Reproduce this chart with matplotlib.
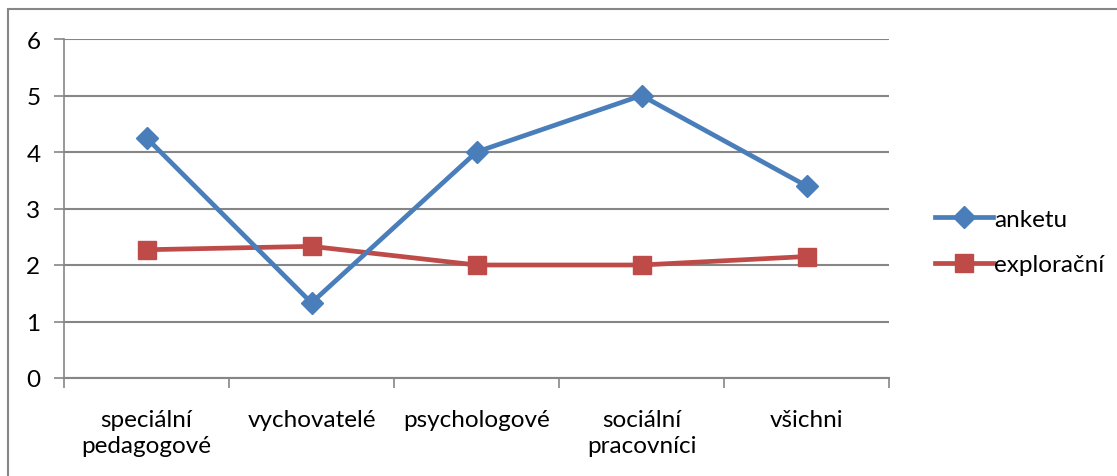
import matplotlib
matplotlib.use("Agg")
import matplotlib.pyplot as plt
from matplotlib.patches import Rectangle
from matplotlib.lines import Line2D

categories = ["speciální\npedagogové", "vychovatelé", "psychologové", "sociální\npracovníci", "všichni"]
anketu = [4.25, 1.33, 4.0, 5.0, 3.4]
exploracni = [2.27, 2.33, 2.0, 2.0, 2.15]
series_names = ["anketu", "explorační"]
yticks = [0, 1, 2, 3, 4, 5, 6]

BLUE = "#4A7EBB"
RED = "#BE4B48"
GRID = "#868686"

plt.rcParams['font.family'] = ['Lato', 'DejaVu Sans']

W, H = 1117, 477
fig = plt.figure(figsize=(W / 100, H / 100), dpi=100)
fig.patch.set_facecolor("white")

# outer chart frame
fig.patches.append(Rectangle((8 / W, -0.1), 1.2, 1 - 10 / H + 0.1, transform=fig.transFigure,
                             fill=False, edgecolor="#868686", linewidth=1.5))

ax = fig.add_axes([64 / W, 1 - 379 / H, (889 - 64) / W, (379 - 40) / H])
x = list(range(len(categories)))
ax.plot(x, anketu, color=BLUE, linewidth=3.4, marker="D", markersize=11, label=series_names[0],
        clip_on=False, zorder=4)
ax.plot(x, exploracni, color=RED, linewidth=3.4, marker="s", markersize=13, label=series_names[1],
        clip_on=False, zorder=3)

ax.set_xlim(-0.5, len(categories) - 0.5)
ax.set_ylim(0, 6)
ax.set_yticks(yticks)
ax.set_xticks(x)
ax.set_xticklabels(categories, fontsize=17.5, linespacing=1.3)
ax.set_xticks([i - 0.5 for i in range(len(categories) + 1)], minor=True)
ax.tick_params(axis="x", which="major", length=0, pad=22)
ax.tick_params(axis="x", which="minor", length=7, color=GRID, width=1.2, direction="out")
ax.tick_params(axis="y", length=7, color=GRID, width=1.2, labelsize=17.5, pad=10)
ax.grid(axis="y", color=GRID, linewidth=1.5)
ax.set_axisbelow(True)
for s in ["top", "right"]:
    ax.spines[s].set_visible(False)
ax.spines["left"].set_color(GRID)
ax.spines["bottom"].set_color(GRID)
ax.spines["left"].set_linewidth(1.2)
ax.spines["bottom"].set_linewidth(1.5)

handles = [Line2D([], [], color=BLUE, linewidth=3.4, marker="D", markersize=11),
           Line2D([], [], color=RED, linewidth=3.4, marker="s", markersize=13)]
fig.legend(handles, series_names, loc="center left", bbox_to_anchor=(925 / W, 1 - 243 / H),
           frameon=False, fontsize=17.5, handlelength=2.4, handletextpad=0.05, labelspacing=1.0,
           borderaxespad=0)

fig.savefig("out.png", dpi=100)
